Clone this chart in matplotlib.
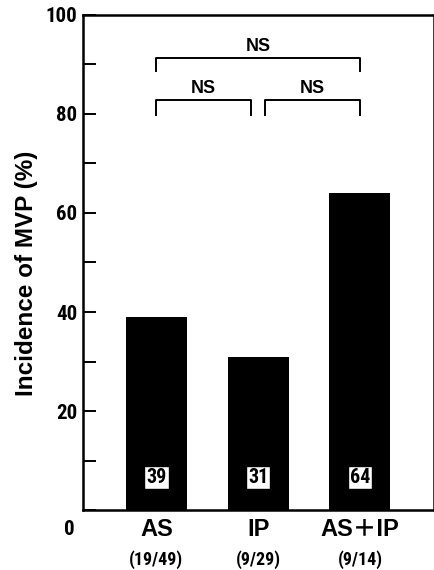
import matplotlib.pyplot as plt
from matplotlib.ticker import MultipleLocator

groups = ["AS", "IP", "AS＋IP"]
counts = ["(19/49)", "(9/29)", "(9/14)"]
incidence = [39, 31, 64]
# comparisons: (left bar, right bar, bracket height, leg bottom)
brackets = [(0, 2, 91.3, 88.6), (0, 0.93, 82.8, 79.7), (1.07, 2, 82.8, 79.7)]

narrow = "Roboto Condensed"
sans = ["Liberation Sans", "Noto Sans CJK JP"]

fig = plt.figure(figsize=(4.35, 5.7), dpi=100)
ax = fig.add_axes([0.191, 0.105, 0.806, 0.869])

x = range(len(groups))
ax.bar(x, incidence, width=0.6, color="black")

for i, v in zip(x, incidence):
    ax.text(i, 6.6, str(v), ha="center", va="center", fontsize=14.5, fontweight="bold",
            family=narrow,
            bbox=dict(boxstyle="square,pad=0.1", fc="white", ec="black", lw=1))

for x0, x1, top, bot in brackets:
    ax.plot([x0, x0, x1, x1], [bot, top, top, bot], color="black", lw=1.4)
    ax.text((x0 + x1) / 2, top + 2.4, "NS", ha="center", va="center",
            fontsize=13, fontweight="bold", family=sans)

ax.set_xlim(-0.72, 2.725)
ax.set_ylim(0, 100)
ax.yaxis.set_minor_locator(MultipleLocator(10))
ax.set_yticks([20, 40, 60, 80, 100])
ax.set_yticklabels(["20", "40", "60", "80", "100"], fontsize=15, fontweight="bold",
                   family=narrow)
ax.tick_params(axis="y", which="both", direction="in", length=9, width=1.4, pad=4)
ax.set_xticks([])
for s in ax.spines.values():
    s.set_linewidth(1.8)

ax.text(-0.023, -0.04, "0", transform=ax.transAxes, ha="right", va="center",
        fontsize=15, fontweight="bold", family=narrow)

for i, g, c in zip(x, groups, counts):
    ax.text(i, -4.0, g, ha="center", va="center", fontsize=17, fontweight="bold",
            family=sans)
    ax.text(i, -10.0, c, ha="center", va="center", fontsize=13, fontweight="bold",
            family=narrow)

fig.text(0.062, 0.521, "Incidence of MVP (%)", rotation=90, ha="center", va="center",
         fontsize=17.5, fontweight="bold", family=sans)

fig.savefig("out.png", dpi=100)
